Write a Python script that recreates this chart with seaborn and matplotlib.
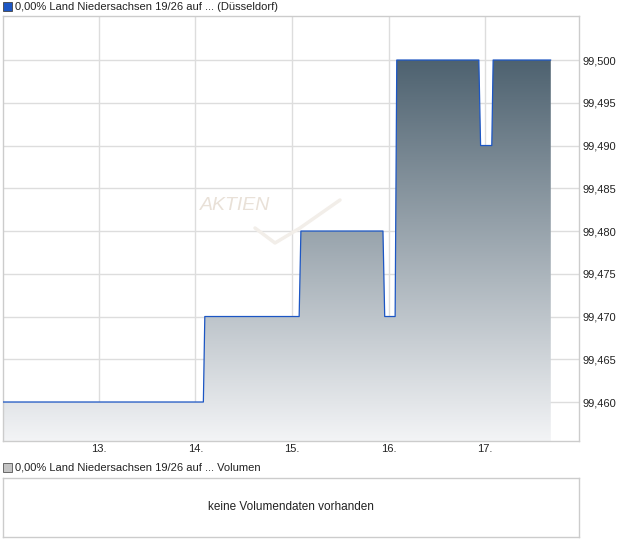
import numpy as np
import pandas as pd
import matplotlib
matplotlib.use("Agg")
import matplotlib.pyplot as plt
import seaborn as sns
from matplotlib.colors import LinearSegmentedColormap

# ---- data (day of month as fractional day, price) ----
days = [12.0, 14.082, 14.097, 15.074, 15.092, 15.942, 15.960, 16.068, 16.085,
        16.935, 16.953, 17.069, 17.083, 17.68]
prices = [99.460, 99.460, 99.470, 99.470, 99.480, 99.480, 99.470, 99.470, 99.500,
          99.500, 99.490, 99.490, 99.500, 99.500]
xtick_days = [13, 14, 15, 16, 17]
xtick_labels = ["13.", "14.", "15.", "16.", "17."]
ytick_vals = [99.460, 99.465, 99.470, 99.475, 99.480, 99.485, 99.490, 99.495, 99.500]
title_text = "0,00% Land Niedersachsen 19/26 auf ... (Düsseldorf)"
vol_legend_text = "0,00% Land Niedersachsen 19/26 auf ... Volumen"
vol_empty_text = "keine Volumendaten vorhanden"

df = pd.DataFrame({"day": days, "price": prices})

sns.set_style("white")
plt.rcParams["font.family"] = ["Liberation Sans", "DejaVu Sans"]

W, H = 620, 546
fig = plt.figure(figsize=(W / 100, H / 100), dpi=100)

def fx(px):
    return px / W

def fy(py):
    return 1 - py / H

# main axes
ax = fig.add_axes([fx(3), fy(441), fx(578.5) - fx(3), fy(16) - fy(441)])
xmin, xmax = 12.007, 17.967
ymin, ymax = 99.45544, 99.50515
ax.set_xlim(xmin, xmax)
ax.set_ylim(ymin, ymax)

# grid
for yv in ytick_vals:
    ax.axhline(yv, color="#dddddd", lw=1, zorder=0)
for xv in xtick_days:
    ax.axvline(xv, color="#dddddd", lw=1, zorder=0)

# watermark
def px2data(px, py):
    return (xmin + (px - 3) / (578.5 - 3) * (xmax - xmin),
            ymin + (441 - py) / (441 - 16) * (ymax - ymin))

wx, wy = px2data(235, 205)
ax.text(wx, wy, "AKTIEN", color="#e9e1d8", fontsize=14, style="italic",
        ha="center", va="center", zorder=0.5)
pts = [(255, 228), (275, 243), (300, 228), (340, 200)]
sx = [px2data(p, q)[0] for p, q in pts]
sy = [px2data(p, q)[1] for p, q in pts]
ax.plot(sx, sy, color="#f2eee9", lw=2.5, solid_capstyle="round", zorder=0.5)

# gradient fill under the line
poly = ax.fill_between(df["day"], df["price"], ymin, color="none", lw=0, zorder=1)
cmap = LinearSegmentedColormap.from_list("g", ["#f3f4f6", "#4e6270"])
grad = np.linspace(0, 1, 256).reshape(-1, 1)
im = ax.imshow(grad, extent=[df["day"].min(), df["day"].max(), ymin, max(prices)],
               origin="lower", aspect="auto", cmap=cmap, zorder=1)
path = poly.get_paths()[0]
im.set_clip_path(path, transform=ax.transData)

# line
sns.lineplot(data=df, x="day", y="price", ax=ax, color="#1c56c4", lw=0.9, zorder=3)

ax.set_xlabel("")
ax.set_ylabel("")
ax.yaxis.tick_right()
ax.set_yticks(ytick_vals)
ax.set_yticklabels([f"{v:.3f}".replace(".", ",") for v in ytick_vals])
ax.set_xticks(xtick_days)
ax.set_xticklabels(xtick_labels)
ax.tick_params(axis="both", length=0, labelsize=8, colors="#222222")
ax.tick_params(axis="y", pad=3)
ax.tick_params(axis="x", pad=2.5)
for sp in ax.spines.values():
    sp.set_color("#cccccc")
    sp.set_linewidth(1)
ax.grid(False)

# top legend
fig.patches.append(plt.Rectangle((fx(3), fy(11)), fx(9), fy(2) - fy(11),
                                 transform=fig.transFigure, facecolor="#1c56c4",
                                 edgecolor="#444444", lw=0.6))
fig.text(fx(15), fy(6.5), title_text, fontsize=8, va="center", ha="left", color="#222222")

# volume legend
fig.patches.append(plt.Rectangle((fx(3), fy(472)), fx(9), fy(463) - fy(472),
                                 transform=fig.transFigure, facecolor="#c4c4c4",
                                 edgecolor="#555555", lw=0.6))
fig.text(fx(15), fy(467.5), vol_legend_text, fontsize=8, va="center", ha="left", color="#222222")

# volume box
vax = fig.add_axes([fx(3), fy(537), fx(578.5) - fx(3), fy(478) - fy(537)])
vax.set_xticks([])
vax.set_yticks([])
for sp in vax.spines.values():
    sp.set_color("#cccccc")
    sp.set_linewidth(1)
vax.text(0.5, 0.5, vol_empty_text, ha="center", va="center", fontsize=8.5,
         color="#222222", transform=vax.transAxes)

fig.savefig("out.png", dpi=100)
